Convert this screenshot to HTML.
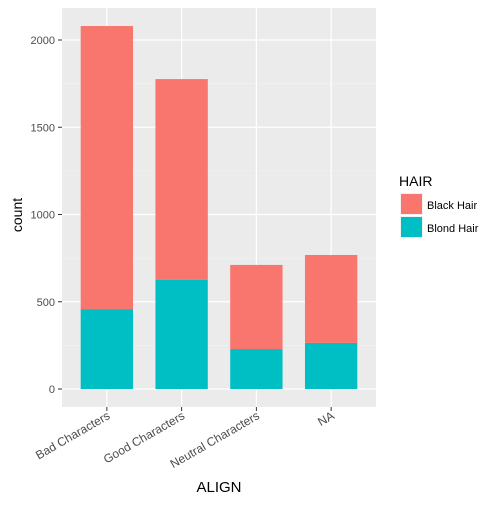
<!DOCTYPE html>
<html><head><meta charset="utf-8"><style>
body{margin:0;background:#fff;font-family:"Liberation Sans",sans-serif;}
</style></head><body>
<svg id="chart" width="500" height="500" xmlns="http://www.w3.org/2000/svg">
<rect x="0" y="0" width="500" height="500" fill="#fff"/>
<rect x="62" y="8" width="314" height="399" fill="#ebebeb"/>
<g id="grid"></g><g id="bars"></g><g id="axes"></g>
<text x="219" y="492" text-anchor="middle" font-size="15" fill="#000">ALIGN</text>
<text transform="translate(22,215) rotate(-90)" text-anchor="middle" font-size="14" fill="#000">count</text>
<g>
<text x="399" y="186" font-size="14" fill="#000">HAIR</text>
<rect x="400" y="193" width="23" height="22" fill="#f2f2f2"/>
<rect x="401" y="194" width="21" height="20" fill="#f8766d"/>
<text x="427" y="209" font-size="11" fill="#000">Black Hair</text>
<rect x="400" y="216" width="23" height="22" fill="#f2f2f2"/>
<rect x="401" y="217" width="21" height="20" fill="#00bfc4"/>
<text x="427" y="232" font-size="11" fill="#000">Blond Hair</text>
</g>
</svg>
<script>
const categories=["Bad Characters","Good Characters","Neutral Characters","NA"];
const blondHair=[458,625,229,264];
const blackHair=[1622,1151,482,504];
const yTicks=[0,500,1000,1500,2000];
const NS="http://www.w3.org/2000/svg";
const px0=62,px1=376,py0=407,py1=8;
const y0px=389,pxPerUnit=87.25/500;
function y(v){return y0px-v*pxPerUnit;}
function x(i){return px0+(i+1-0.4)*((px1-px0)/4.2);}
const bw=0.7*(px1-px0)/4.2;
function mk(tag,attrs,parent){const e=document.createElementNS(NS,tag);for(const k in attrs)e.setAttribute(k,attrs[k]);parent.appendChild(e);return e;}
const grid=document.getElementById('grid'),bars=document.getElementById('bars'),axes=document.getElementById('axes');
for(let i=0;i<yTicks.length-1;i++){const v=(yTicks[i]+yTicks[i+1])/2;
 const l=mk('line',{x1:px0,x2:px1,y1:y(v),y2:y(v),stroke:'#f5f5f5','stroke-width':0.6},grid);
 
 }
{const v=yTicks[yTicks.length-1]+250;if(y(v)>py1){const l=mk('line',{x1:px0,x2:px1,y1:y(v),y2:y(v),stroke:'#f5f5f5','stroke-width':0.6},grid);
 
 }}
yTicks.forEach(v=>{const l=mk('line',{x1:px0,x2:px1,y1:y(v),y2:y(v),stroke:'#fff','stroke-width':1.2},grid);
 
 
 const t=mk('text',{x:55,y:y(v)+4,'text-anchor':'end','font-size':11,fill:'#4d4d4d'},axes);t.textContent=v;
 
 
 mk('line',{x1:58,x2:62,y1:y(v),y2:y(v),stroke:'#333'},axes);});
categories.forEach((c,i)=>{const cx=x(i);
 const l=mk('line',{x1:cx,x2:cx,y1:py1,y2:py0,stroke:'#fff','stroke-width':1.2},grid);
 
 
 const b1=mk('rect',{x:cx-bw/2,y:y(blondHair[i]),width:bw,height:y(0)-y(blondHair[i]),fill:'#00bfc4'},bars);
 
 
 const tot=blondHair[i]+blackHair[i];
 const b2=mk('rect',{x:cx-bw/2,y:y(tot),width:bw,height:y(blondHair[i])-y(tot),fill:'#f8766d'},bars);
 
 
 mk('line',{x1:cx,x2:cx,y1:407,y2:411,stroke:'#333'},axes);
 const t=mk('text',{transform:`translate(${cx+4},${418}) rotate(-30)`,'text-anchor':'end','font-size':12,fill:'#4d4d4d'},axes);t.textContent=c;
 
 });
</script>
</body></html>
